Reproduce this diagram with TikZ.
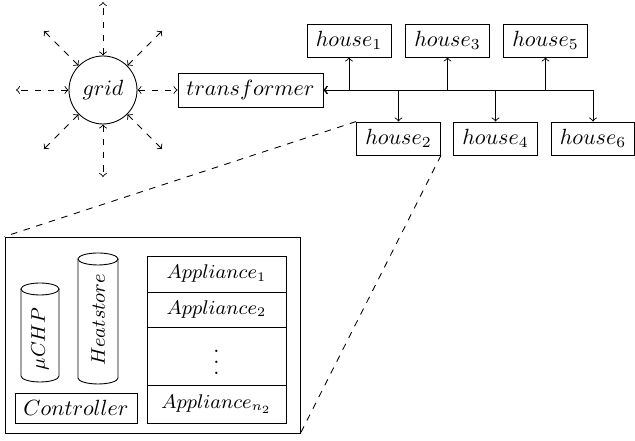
\documentclass[tikz,border=0pt]{standalone}
\def\ux{0.4545pt}
% three dots spaced a little wider than \vdots
\newcommand\stackdots{\vbox{\baselineskip=5pt\lineskiplimit=0pt\hbox{.}\hbox{.}\hbox{.}}}
\begin{document}
\begin{tikzpicture}[x=0.4545pt,y=-0.4545pt,>=to,
  hbox/.style={draw, inner sep=0pt, minimum width=84*\ux, minimum height=33*\ux},
  cell/.style={draw, inner sep=0pt, minimum width=139*\ux, minimum height=#1*\ux, font=\small},
  tanklabel/.style={rotate=90, inner sep=0pt, font=\small},
  feed/.style={<->},
  link/.style={<->, dashed}]
\useasboundingbox (0,0) rectangle (635,441);

% grid and its surrounding connections
\node[draw, circle, inner sep=0pt, minimum size=68*\ux] (grid) at (103,90) {$grid$};
\coordinate (gN) at (103,2);
\coordinate (gS) at (103,177);
\coordinate (gW) at (16,90);
\coordinate (gNW) at (44,31);
\coordinate (gNE) at (162,31);
\coordinate (gSW) at (44,149);
\coordinate (gSE) at (162,149);
\foreach \c in {gN,gS,gW,gNW,gNE,gSW,gSE}
  \draw[link] (grid) -- (\c);

% transformer and houses
\node[draw, inner sep=0pt, minimum width=145*\ux, minimum height=34*\ux] (tr) at (250.5,90) {$transformer$};
\draw[link] (grid) -- (tr);

\node[hbox] (h1) at (349,40.5) {$house_1$};
\node[hbox] (h3) at (447.5,40.5) {$house_3$};
\node[hbox] (h5) at (545.5,40.5) {$house_5$};
\node[hbox] (h2) at (398.5,138.5) {$house_2$};
\node[hbox] (h4) at (495.5,138.5) {$house_4$};
\node[hbox, minimum width=83*\ux] (h6) at (593,138.5) {$house_6$};

\foreach \h in {h1,h3,h5}
  \draw[feed] (tr.east) -| (\h.south);
\foreach \h in {h2,h4,h6}
  \draw[feed] (tr.east) -| (\h.north);

% detail of one house
\node[draw, inner sep=0pt, minimum width=295*\ux, minimum height=196*\ux] (home) at (152.5,335) {};
\draw[dashed] (h2.north west) -- (home.north west);
\draw[dashed] (h2.south east) -- (home.south east);

% storage cylinders: top cap, sides and lower rim
\draw (21,289) -- (21,376) arc[start angle=180, end angle=0, x radius=19, y radius=6]
      -- (59,289);
\draw (40,289) ellipse [x radius=19, y radius=6];
\node[tanklabel] (chp) at (40,339) {$\mu CHP$};

\draw (78,259) -- (78,378) arc[start angle=180, end angle=0, x radius=20, y radius=6]
      -- (118,259);
\draw (98,259) ellipse [x radius=20, y radius=6];
\node[tanklabel] (heat) at (98,320) {$Heatstore$};

\node[draw, inner sep=0pt, minimum width=122*\ux, minimum height=30*\ux] (ctrl) at (76,408) {$Controller$};

\node[cell=36] (a1) at (216.5,274) {$Appliance_1$};
\node[cell=35] (a2) at (216.5,309.5) {$Appliance_2$};
\node[cell=58] (a3) at (216.5,356) {};
\node[inner sep=0pt] (dots) at (216.5,362) {\stackdots};
\node[cell=38] (a4) at (216.5,404) {$Appliance_{n_2}$};
\end{tikzpicture}
\end{document}
